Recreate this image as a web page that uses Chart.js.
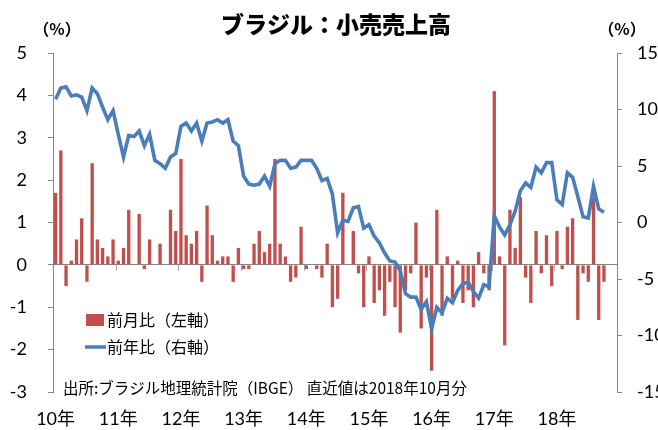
<!DOCTYPE html>
<html>
<head>
<meta charset="utf-8">
<script src="https://cdn.jsdelivr.net/npm/chart.js@4.4.1/dist/chart.umd.min.js"></script>
<style>
html,body{margin:0;padding:0;background:#ffffff;}
#wrap{width:658px;height:430px;position:relative;}
</style>
</head>
<body>
<div id="wrap"><canvas id="c" width="658" height="430"></canvas></div>
<script>
// ---- data ----
const chartTitle = 'ブラジル：小売売上高';
const noteText = '出所:ブラジル地理統計院（IBGE） 直近値は2018年10月分';
const unitLabel = '（%）';
const seriesNames = ['前月比（左軸）', '前年比（右軸）'];
const years = [2010, 2011, 2012, 2013, 2014, 2015, 2016, 2017, 2018];
const yearLabels = ['10年', '11年', '12年', '13年', '14年', '15年', '16年', '17年', '18年'];
const monthNumbers = [1, 2, 3, 4, 5, 6, 7, 8, 9, 10, 11, 12];

// monthly categories Jan 2010 – Dec 2018 (data end Oct 2018)
const categories = [];
years.forEach(y => monthNumbers.forEach(m => categories.push(y + '年' + m + '月')));

// 前月比 (%), left axis
const momValues = [
  1.7, 2.7, -0.5, 0.1, 0.6, 1.1, -0.4, 2.4, 0.6, 0.4, 0.2, 0.6,
  0.1, 0.4, 1.3, 0.0, 1.2, -0.1, 0.6, 0.0, 0.5, 0.0, 1.3, 0.8,
  2.5, 0.7, 0.5, 0.8, -0.4, 1.4, 0.7, 0.1, 0.2, 0.2, -0.4, 0.4,
  -0.1, -0.1, 0.5, 0.8, 0.3, 0.5, 2.5, 0.5, 0.2, -0.4, -0.3, 0.9,
  -0.1, 0.0, -0.1, -0.3, 0.5, -1.0, -0.8, 1.7, 0.0, 0.8, -0.2, -1.0,
  0.2, -0.9, -0.6, -1.2, -0.4, -1.0, -1.6, -0.6, -0.2, 1.0, -1.5, -0.3,
  -2.5, 1.3, -1.2, 0.2, -0.8, 0.1, -0.9, -0.6, -1.0, 0.3, -0.2, -0.6,
  4.1, 0.2, -1.9, 1.3, 0.4, 1.6, -0.3, -0.9, 0.8, -0.2, 0.7, -0.5,
  0.8, -0.1, 0.9, 1.1, -1.3, -0.2, -0.4, 1.6, -1.3, -0.4
];

// 前年比 (%), right axis
const yoyValues = [
  10.9, 11.9, 12.0, 11.2, 11.3, 11.1, 9.9, 11.9, 11.4, 10.2, 9.1, 9.9,
  7.8, 5.8, 7.7, 7.6, 8.1, 6.8, 7.8, 5.5, 5.2, 4.8, 5.8, 6.1,
  8.5, 8.8, 8.1, 8.8, 7.2, 8.8, 8.9, 9.1, 8.8, 9.1, 7.2, 6.8,
  4.1, 3.4, 3.3, 3.4, 4.1, 3.2, 5.2, 5.5, 5.5, 4.8, 4.9, 5.5,
  5.5, 5.5, 4.8, 3.7, 3.9, 2.5, -0.9, 0.2, 0.1, 1.3, 1.4, -0.5,
  -0.2, -1.2, -1.8, -2.7, -3.4, -3.5, -4.3, -6.3, -6.6, -6.6, -7.7, -7.0,
  -9.4, -7.5, -8.0, -6.7, -7.1, -6.0, -5.4, -5.3, -6.1, -6.7, -5.5, -5.7,
  0.6, -0.4, -1.1, -0.2, 1.0, 2.8, 3.5, 3.1, 4.9, 4.4, 5.3, 5.3,
  2.0, 1.6, 4.4, 4.0, 2.3, 0.5, 0.4, 3.2, 1.2, 0.9
];

const leftRange = [-3, 5, 1];
const rightRange = [-15, 15, 5];

// ---- styles ----
const RED = '#C0504D';
const BLUE = '#4A7EBB';
const AXIS = '#868686';
const LATIN = 'Lato, "Noto Sans CJK JP", sans-serif';
const CJK = '"Noto Sans CJK JP", "Noto Sans", sans-serif';

const overlay = {
  id: 'overlay',
  afterDatasetsDraw(chart) {
    const ctx = chart.ctx;
    const xs = chart.scales.x, ys = chart.scales.y;
    const y0 = ys.getPixelForValue(0);
    ctx.save();
    ctx.strokeStyle = '#A6A6A6';
    ctx.lineWidth = 1;
    for (let i = 12; i < categories.length; i += 12) {
      const bx = Math.round((xs.getPixelForValue(i - 1) + xs.getPixelForValue(i)) / 2) + 0.5;
      ctx.beginPath();
      ctx.moveTo(bx, y0);
      ctx.lineTo(bx, y0 + 6);
      ctx.stroke();
    }
    ctx.restore();
  },
  afterDraw(chart) {
    const ctx = chart.ctx;
    ctx.save();
    ctx.fillStyle = '#000';
    ctx.textBaseline = 'middle';
    // title
    ctx.font = '900 23px ' + CJK;
    ctx.textAlign = 'center';
    ctx.fillText(chartTitle, 336, 24);
    // units
    ctx.font = 'bold 16px ' + CJK;
    ctx.fillText(unitLabel, 57, 29);
    ctx.fillText(unitLabel, 622, 29);
    // legend
    ctx.textAlign = 'left';
    ctx.fillStyle = RED;
    ctx.fillRect(86, 314, 18, 12);
    ctx.strokeStyle = BLUE;
    ctx.lineWidth = 3.5;
    ctx.beginPath();
    ctx.moveTo(85, 347);
    ctx.lineTo(106, 347);
    ctx.stroke();
    ctx.fillStyle = '#000';
    ctx.font = '16px ' + CJK;
    ctx.fillText(seriesNames[0], 107, 320);
    ctx.fillText(seriesNames[1], 107, 347);
    // note
    ctx.font = '15.5px ' + CJK;
    ctx.fillText(noteText, 63, 388);
    ctx.restore();
  }
};

new Chart(document.getElementById('c'), {
  data: {
    labels: categories,
    datasets: [
      {
        type: 'line',
        label: seriesNames[1],
        data: yoyValues,
        yAxisID: 'y1',
        borderColor: BLUE,
        backgroundColor: BLUE,
        borderWidth: 3.6,
        pointRadius: 0,
        tension: 0,
        order: 0
      },
      {
        type: 'bar',
        label: seriesNames[0],
        data: momValues,
        yAxisID: 'y',
        backgroundColor: RED,
        borderWidth: 0,
        barPercentage: 1.0,
        categoryPercentage: 0.64,
        order: 1
      }
    ]
  },
  options: {
    responsive: false,
    devicePixelRatio: 1,
    animation: false,
    layout: { padding: { top: 53, left: 0, right: 0, bottom: 0 } },
    plugins: { legend: { display: false }, tooltip: { enabled: false }, title: { display: false } },
    scales: {
      x: {
        type: 'category',
        offset: true,
        grid: { display: false, drawTicks: false },
        border: { display: false },
        ticks: {
          autoSkip: false,
          maxRotation: 0,
          minRotation: 0,
          padding: 16,
          color: '#000',
          font: { family: LATIN, size: 18 },
          callback: (v, i) => (i % 12 === 0 ? yearLabels[i / 12] : '')
        },
        afterFit: s => { s.height = 38; }
      },
      y: {
        position: 'left',
        min: leftRange[0], max: leftRange[1],
        ticks: { stepSize: leftRange[2], color: '#000', padding: 21, font: { family: LATIN, size: 18 } },
        grid: {
          drawOnChartArea: true,
          color: c => (c.tick && c.tick.value === 0 ? AXIS : 'rgba(0,0,0,0)'),
          tickColor: AXIS,
          tickLength: 5,
          lineWidth: 1
        },
        border: { display: true, color: AXIS, width: 1 },
        afterFit: s => { s.width = 53; }
      },
      y1: {
        position: 'right',
        min: rightRange[0], max: rightRange[1],
        ticks: { stepSize: rightRange[2], color: '#000', padding: 15, font: { family: LATIN, size: 18 } },
        grid: { drawOnChartArea: false, tickColor: AXIS, tickLength: 5 },
        border: { display: true, color: AXIS, width: 1 },
        afterFit: s => { s.width = 41; }
      }
    }
  },
  plugins: [overlay]
});
</script>
</body>
</html>
